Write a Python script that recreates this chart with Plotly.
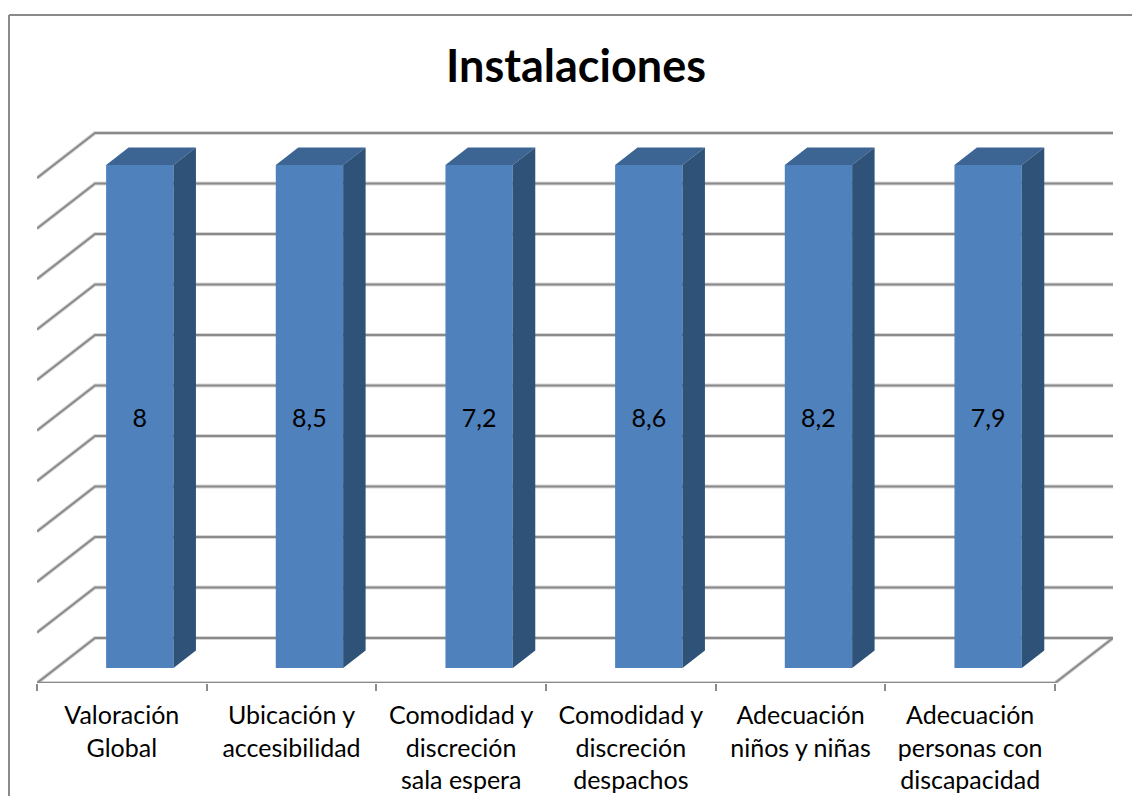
import plotly.graph_objects as go

# Data
categories = ["Valoración<br>Global", "Ubicación y<br>accesibilidad", "Comodidad y<br>discreción<br>sala espera",
              "Comodidad y<br>discreción<br>despachos", "Adecuación<br>niños y niñas", "Adecuación<br>personas con<br>discapacidad"]
values = [8, 8.5, 7.2, 8.6, 8.2, 7.9]      # printed labels
drawn_heights = [9.96, 9.96, 9.96, 9.96, 9.96, 9.96]   # the picture draws all columns at the same height
grid_levels = [0, 1, 2, 3, 4, 5, 6, 7, 8, 9, 10]
title = "Instalaciones"

# Oblique depth projection, in axis units
DEPTH_X, DEPTH_Y = 0.342, 0.891
BAR_W = 0.397
BAR_NEAR, BAR_FAR = 0.333, 0.72   # column's depth span as a fraction of the floor
BAR_SHIFT = -0.008
X0, X1 = -0.5, 5.5
FONT = "Lato"
GRID = "#8a8a8a"

def project(x, y, d):
    return x + d * DEPTH_X, y + d * DEPTH_Y

xs = [i + BAR_SHIFT for i in range(len(categories))]
labels = [str(v).replace(".", ",") for v in values]

fig = go.Figure()

# Walls and floor
wx, wy = [], []
for g in grid_levels:
    a = project(X0, g, 0); b = project(X0, g, 1); c = project(X1, g, 1)
    wx += [a[0], b[0], c[0], None]
    wy += [a[1], b[1], c[1], None]
a = project(X1, 0, 1); b = project(X1, 0, 0); c = project(X0, 0, 0)
wx += [a[0], b[0], c[0]]
wy += [a[1], b[1], c[1]]
fig.add_trace(go.Scatter(x=wx, y=wy, mode="lines", line=dict(color="rgba(120,120,120,0.3)", width=4), cliponaxis=False,
                         hoverinfo="skip", showlegend=False, zorder=0))
fig.add_trace(go.Scatter(x=wx, y=wy, mode="lines", line=dict(color=GRID, width=2), cliponaxis=False,
                         hoverinfo="skip", showlegend=False, zorder=0))

# Front faces
bx, by = project(0, 0, BAR_NEAR)
fig.add_trace(go.Bar(x=[i + bx for i in xs], y=drawn_heights, base=by, width=BAR_W,
                     marker=dict(color="#4f81bd", line=dict(width=0)),
                     text=labels, textposition="inside", insidetextanchor="middle", textangle=0,
                     textfont=dict(family=FONT, size=25, color="#000000"),
                     hoverinfo="skip", showlegend=False, zorder=1))

# Top and side faces
tx, ty, sx, sy = [], [], [], []
for i, h in zip(xs, drawn_heights):
    l, r = i - BAR_W / 2, i + BAR_W / 2
    corners = [project(l, h, BAR_NEAR), project(r, h, BAR_NEAR), project(r, h, BAR_FAR), project(l, h, BAR_FAR)]
    tx += [p[0] for p in corners] + [corners[0][0], None]
    ty += [p[1] for p in corners] + [corners[0][1], None]
    corners = [project(r, 0, BAR_NEAR), project(r, 0, BAR_FAR), project(r, h, BAR_FAR), project(r, h, BAR_NEAR)]
    sx += [p[0] for p in corners] + [corners[0][0], None]
    sy += [p[1] for p in corners] + [corners[0][1], None]
fig.add_trace(go.Scatter(x=tx, y=ty, mode="lines", fill="toself", fillcolor="#3d6594", line=dict(width=0),
                         hoverinfo="skip", showlegend=False, cliponaxis=False, zorder=2))
fig.add_trace(go.Scatter(x=sx, y=sy, mode="lines", fill="toself", fillcolor="#2f5278", line=dict(width=0),
                         hoverinfo="skip", showlegend=False, cliponaxis=False, zorder=2))

# Layout geometry
ML, MR, MT, MB = 37, 19, 100, 113
PX_X = (1055 - 37) / (X1 - X0)
PX_Y = 50.5
plot_w = 1132 - ML - MR
plot_h = 796 - MT - MB
xr = [X0, X0 + plot_w / PX_X]
yr = [0, plot_h / PX_Y]

def paper_x(px): return (px - ML) / plot_w
def paper_y(py): return (796 - MB - py) / plot_h

fig.update_layout(
    width=1132, height=796, margin=dict(l=ML, r=MR, t=MT, b=MB, autoexpand=False),
    paper_bgcolor="#ffffff", plot_bgcolor="rgba(0,0,0,0)", showlegend=False, barmode="overlay",
    title=dict(text=f"<b>{title}</b>", x=576 / 1132, xanchor="center", y=1 - 66 / 796, yanchor="middle",
               font=dict(family=FONT, size=45, color="#000000")),
    xaxis=dict(range=xr, tickmode="array", tickvals=list(range(len(categories))), ticktext=categories, ticks="", showline=False,
               showgrid=False, zeroline=False, tickangle=0, automargin=False,
               tickfont=dict(family=FONT, size=25, color="#000000"), ticklabelstandoff=15,
               minor=dict(tickmode="array", tickvals=[i - 0.5 for i in range(len(categories) + 1)],
                          ticks="outside", ticklen=7, tickwidth=2, tickcolor=GRID, showgrid=False)),
    yaxis=dict(range=yr, visible=False, fixedrange=True),
    shapes=[
        dict(type="line", xref="paper", yref="paper", x0=paper_x(9), x1=paper_x(1132), y0=paper_y(15), y1=paper_y(15),
             line=dict(color=GRID, width=2)),
        dict(type="line", xref="paper", yref="paper", x0=paper_x(9), x1=paper_x(9), y0=paper_y(15), y1=paper_y(796),
             line=dict(color=GRID, width=2)),
    ],
)

fig.write_html("out.html", config=dict(displayModeBar=False),
               post_script="document.body.style.margin='0';document.body.style.overflow='hidden';")
